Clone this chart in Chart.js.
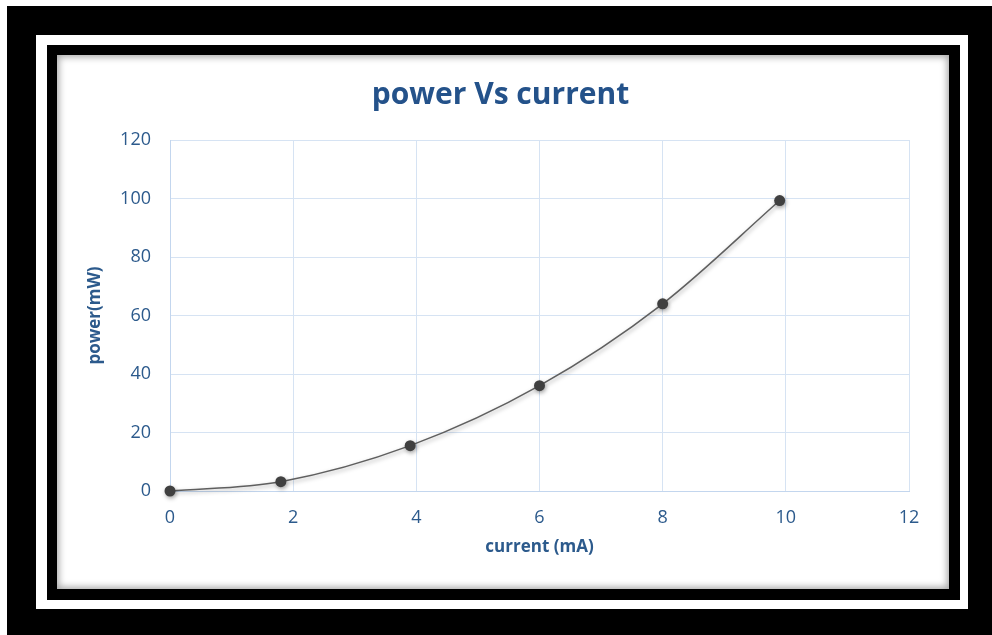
<!DOCTYPE html>
<html>
<head>
<meta charset="utf-8">
<script src="https://cdn.jsdelivr.net/npm/chart.js"></script>
<style>
  html, body { margin: 0; padding: 0; }
  body { width: 992px; height: 635px; background: #000; position: relative; overflow: hidden; }
  #topStrip { position: absolute; left: 0; top: 0; width: 992px; height: 6px; background: #fff; }
  #leftStrip { position: absolute; left: 0; top: 0; width: 7px; height: 635px; background: #fff; }
  #whiteFrame { position: absolute; left: 36px; top: 35px; width: 932px; height: 574px; background: #fff; }
  #blackFrame { position: absolute; left: 47px; top: 45px; width: 913px; height: 555px; background: #000; }
  #chartBox { position: absolute; left: 57px; top: 55px; width: 892px; height: 534px; background: #fff;
    box-shadow: inset 0 0 7px 2px rgba(0,0,0,0.35); }
  canvas { position: absolute; left: 0; top: 0; }
</style>
</head>
<body>
<div id="topStrip"></div>
<div id="leftStrip"></div>
<div id="whiteFrame"></div>
<div id="blackFrame"></div>
<div id="chartBox"><canvas id="myChart" width="892" height="534"></canvas></div>
<script>
// values
const currentValues = [0, 1.8, 3.9, 6, 8, 9.9];
const powerValues = [0, 3.2, 15.5, 36, 64, 99.3];
const chartTitle = 'power Vs current';
const xTitle = 'current (mA)';
const yTitle = 'power(mW)';

const blue = '#2c5a8c';
const gridBlue = '#d6e3f3';
const fontFamily = '"Open Sans", Lato, sans-serif';

const points = currentValues.map((x, i) => ({x: x, y: powerValues[i]}));

// soft shadow under the line and markers
const shadowPlugin = {
  id: 'shadow',
  beforeDatasetDraw(chart) {
    const ctx = chart.ctx;
    ctx.save();
    ctx.shadowColor = 'rgba(0,0,0,0.35)';
    ctx.shadowBlur = 4;
    ctx.shadowOffsetX = 1;
    ctx.shadowOffsetY = 2;
  },
  afterDatasetDraw(chart) {
    chart.ctx.restore();
  }
};

const ctx = document.getElementById('myChart').getContext('2d');
new Chart(ctx, {
  type: 'scatter',
  data: {
    datasets: [{
      data: points,
      showLine: true,
      clip: false,
      cubicInterpolationMode: 'monotone',
      borderColor: '#5f5f5f',
      borderWidth: 1.5,
      pointRadius: 5.5,
      pointBackgroundColor: '#404040',
      pointBorderColor: '#404040',
      pointBorderWidth: 0
    }]
  },
  plugins: [shadowPlugin],
  options: {
    responsive: false,
    animation: false,
    layout: { padding: { left: 35, right: 40, top: 0, bottom: 0 } },
    plugins: {
      legend: { display: false },
      tooltip: { enabled: false },
      title: {
        display: true,
        text: chartTitle,
        color: '#24528a',
        font: { family: fontFamily, size: 30, weight: 'bold', lineHeight: 1.2 },
        padding: { top: 22, bottom: 27 }
      }
    },
    scales: {
      x: {
        type: 'linear',
        min: 0,
        max: 12,
        ticks: {
          stepSize: 2,
          color: blue,
          padding: 16,
          font: { family: fontFamily, size: 18 }
        },
        grid: { color: gridBlue, drawTicks: false, lineWidth: 1 },
        border: { color: '#c3d6ee', width: 1 },
        title: {
          display: true,
          text: xTitle,
          color: blue,
          font: { family: fontFamily, size: 17, weight: 'bold', lineHeight: 1.2 },
          padding: { top: 0, bottom: 31.8 }
        },
        afterFit(scale) { scale.height = 98; }
      },
      y: {
        min: 0,
        max: 120,
        ticks: {
          stepSize: 20,
          color: blue,
          padding: 19,
          font: { family: fontFamily, size: 18 }
        },
        grid: { color: gridBlue, drawTicks: false, lineWidth: 1 },
        border: { color: '#c3d6ee', width: 1 },
        title: {
          display: true,
          text: yTitle,
          color: blue,
          font: { family: fontFamily, size: 17, weight: 'bold', lineHeight: 1.2 },
          padding: { top: -6.7, bottom: 0 }
        },
        afterFit(scale) { scale.width = 78; }
      }
    }
  }
});
</script>
</body>
</html>
